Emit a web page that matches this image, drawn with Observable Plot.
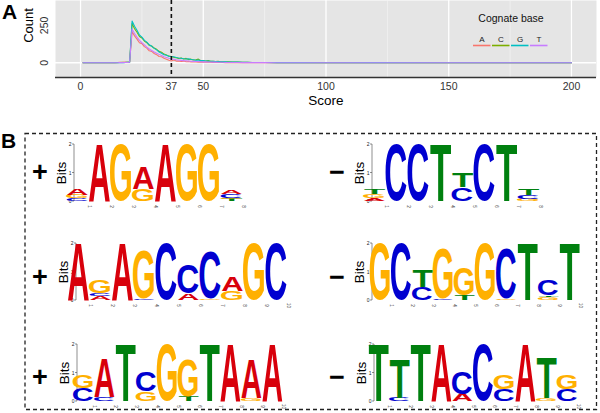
<!DOCTYPE html>
<html><head><meta charset="utf-8">
<script src="https://cdn.jsdelivr.net/npm/d3@7"></script>
<script src="https://cdn.jsdelivr.net/npm/@observablehq/plot@0.6"></script>
<style>
html,body{margin:0;padding:0;background:#fff;}
body{width:600px;height:413px;position:relative;overflow:hidden;font-family:"Liberation Sans",Arial,sans-serif;}
</style></head><body>
<script>
// ---------- Panel A data ----------
const bases = ["A","C","G","T"];
const lineColors = ["#F8766D","#7CAE00","#00BFC4","#C77CFF"];
const xTicks = [0,37,50,100,150,200];
const yTicks = [0,250];
const scores = [1,14, 15,16,17,18,19,20,
  21,22,23,24,25,26,27,28,29,30, 31,32,33,34,35,36,37,38,39,40,
  41,42,43,44,45,46,47,48,49,50, 51,52,53,54,55,56,57,58,59,60,
  62,64,66,68,70,75,80,90,100,120,150,200];
const countA = [0,0, 2,3,2,4,3,5, 208,180,158,134,128,108,98,80,76,62, 54,42,40,30,24,16,12,18,11,12, 9,11,7,8,6,7,5,4,6,4, 3,5,3,2,4,2,3,2,1,2, 1,2,1,1,1,0,1,0,0,0,0,0];
const countC = [0,0, 1,2,3,2,3,4, 262,228,204,176,166,146,134,116,112,98, 90,76,70,58,52,44,42,36,34,28, 32,25,29,21,24,18,20,24,14,13, 12,14,9,10,8,9,6,7,5,6, 4,5,3,3,2,2,1,1,0,0,0,0];
const countG = [0,0, 0,1,2,1,3,3, 280,244,218,186,172,150,138,120,110,96, 86,72,64,54,50,44,40,40,35,32, 30,27,25,26,22,20,17,18,14,14, 12,11,10,10,8,8,7,6,6,5, 4,4,3,3,2,2,1,1,0,1,0,0];
const countT = [0,0, 0,1,1,2,2,3, 226,196,172,150,134,120,104,92,82,72, 64,56,48,40,35,30,26,23,20,18, 16,14,13,12,10,9,8,8,7,6, 6,5,5,4,4,3,3,3,2,2, 2,2,1,1,1,1,0,0,0,0,0,0];
const cutoff = 37;

// ---------- Panel B data (bottom-to-top stacks, bits) ----------
const logo1 = [[["C",0.1],["G",0.12],["A",0.22]],[["A",2]],[["G",2]],[["G",0.42],["A",0.78]],[["A",2]],[["G",2]],[["G",2]],[["T",0.08],["G",0.04],["C",0.14],["A",0.14]]];
const logo2 = [[["A",0.1],["G",0.13],["T",0.18]],[["C",2]],[["C",2]],[["T",2]],[["C",0.48],["T",0.5]],[["C",2]],[["T",2]],[["G",0.08],["C",0.14],["T",0.2]]];
const logo3 = [[["A",2]],[["A",0.14],["C",0.1],["G",0.48]],[["A",2]],[["C",0.05],["G",1.72]],[["C",2]],[["A",0.24],["C",1.02]],[["G",0.05],["C",1.64]],[["G",0.32],["A",0.5]],[["G",2]],[["C",2]]];
const logo4 = [[["G",2]],[["C",2]],[["C",0.45],["T",0.6]],[["C",0.06],["G",1.76]],[["T",0.16],["G",0.98]],[["G",2]],[["G",0.06],["C",1.76]],[["T",2]],[["G",0.1],["T",0.06],["C",0.55]],[["T",2]]];
const logo5 = [[["C",0.45],["G",0.47]],[["C",0.15],["A",1.35]],[["T",2]],[["G",0.33],["C",0.67]],[["G",2]],[["T",0.16],["G",1.28]],[["T",2]],[["A",2]],[["G",0.1],["A",1.35]],[["A",2]]];
const logo6 = [[["T",2]],[["C",0.12],["T",1.38]],[["T",2]],[["A",2]],[["A",0.25],["C",0.8]],[["C",2]],[["C",0.4],["G",0.52]],[["A",2]],[["G",0.1],["T",1.4]],[["C",0.4],["G",0.52]]];
const logoSigns = ["+","−","+","−","+","−"];
const bitTicks = [0,1,2];
const baseColors = {A:"#d8000b", C:"#0000d0", G:"#ffb000", T:"#00800f"};

// ---------- helpers ----------
const NS = "http://www.w3.org/2000/svg";
const FONT = "Liberation Sans, Arial, sans-serif";
const cv = document.createElement("canvas").getContext("2d");
cv.font = "bold 100px 'Liberation Sans'";
const metrics = {};
for (const b of "ACGT") {
  const m = cv.measureText(b);
  metrics[b] = {l: m.actualBoundingBoxLeft, r: m.actualBoundingBoxRight, a: m.actualBoundingBoxAscent, d: m.actualBoundingBoxDescent};
}
function place(el, left, top) {
  el.style.position = "absolute"; el.style.left = left + "px"; el.style.top = top + "px";
  document.body.appendChild(el);
}

// ---------- Panel A ----------
const lineData = bases.flatMap((b, i) => {
  const arr = [countA, countC, countG, countT][i];
  return scores.map((s, j) => ({base: b, score: s, count: arr[j]}));
});
const plotA = Plot.plot({
  width: 600, height: 112,
  marginLeft: 55, marginRight: 4, marginTop: 0, marginBottom: 35,
  style: {fontFamily: FONT, background: "transparent", overflow: "visible"},
  x: {domain: [-10.2, 210.2], axis: null},
  y: {domain: [-99, 417], axis: null},
  color: {domain: bases, range: lineColors},
  marks: [
    Plot.frame({fill: "#e5e5e5", stroke: "none"}),
    Plot.ruleX([25, 75, 125, 175], {stroke: "#f3f3f3", strokeWidth: 0.7}),
    Plot.ruleX([0, 50, 100, 150, 200], {stroke: "#ffffff", strokeWidth: 1.3}),
    Plot.ruleY([0], {stroke: "#ffffff", strokeWidth: 1.3}),
    Plot.line(lineData, {x: "score", y: "count", stroke: "base", z: "base", strokeWidth: 1.1}),
    Plot.ruleX([cutoff], {stroke: "#111", strokeWidth: 1.6, strokeDasharray: "4,3"}),
    Plot.ruleY([-99], {stroke: "#333", strokeWidth: 1.6}),
    Plot.text(xTicks, {x: d => d, frameAnchor: "bottom", dy: 12, text: d => String(d), fontSize: 10.5, fill: "#333"}),
    Plot.text(yTicks, {y: d => d, frameAnchor: "left", textAnchor: "middle", dx: -11, rotate: -90, text: d => String(d), fontSize: 10.5, fill: "#333"}),
    Plot.text(["Count"], {y: () => 250, frameAnchor: "left", textAnchor: "middle", dx: -27, rotate: -90, fontSize: 13, fill: "#000"}),
    Plot.text(["Score"], {x: () => 100, frameAnchor: "bottom", dy: 27, fontSize: 13.5, fill: "#000"})
  ]
});
place(plotA, 0, 0);

// Legend
const leg = document.createElementNS(NS, "svg");
leg.setAttribute("width", 140); leg.setAttribute("height", 60);
leg.setAttribute("style", "position:absolute;left:440px;top:0px;font-family:" + FONT);
let lh = `<text x="71" y="22" text-anchor="middle" font-size="10.5" fill="#111">Cognate base</text>`;
bases.forEach((b, i) => {
  const cx = 42 + i * 19;
  lh += `<text x="${cx}" y="42" text-anchor="middle" font-size="8" fill="#222">${b}</text>`;
  lh += `<line x1="${cx - 9}" x2="${cx + 8.5}" y1="45.5" y2="45.5" stroke="${lineColors[i]}" stroke-width="1.6"/>`;
});
leg.innerHTML = lh;
document.body.appendChild(leg);

// ---------- Panel B ----------
const logos = [logo1, logo2, logo3, logo4, logo5, logo6];
const cfg = [
  {col: 0,   ax: 74,  bl: 77,  br: 254, y2: 144, y0: 201, sx: 40,  sy: 172},
  {col: 300, ax: 372, bl: 374, br: 551, y2: 144, y0: 201, sx: 337, sy: 172},
  {col: 0,   ax: 76,  bl: 78,  br: 299, y2: 243, y0: 300, sx: 40,  sy: 277},
  {col: 300, ax: 372, bl: 377, br: 594, y2: 243, y0: 300, sx: 337, sy: 277},
  {col: 0,   ax: 77,  bl: 80,  br: 298, y2: 344, y0: 401, sx: 40,  sy: 377},
  {col: 300, ax: 374, bl: 375, br: 593, y2: 344, y0: 401, sx: 337, sy: 377}
];

function glyphMark(rows) {
  return (index, scales, values, dims) => {
    const g = document.createElementNS(NS, "g");
    const x = scales.x, y = scales.y;
    const bw = x.bandwidth ? x.bandwidth() : 20;
    const ax = dims.marginLeft;
    const ln = document.createElementNS(NS, "line");
    ln.setAttribute("x1", ax); ln.setAttribute("x2", ax);
    ln.setAttribute("y1", y(0)); ln.setAttribute("y2", y(2));
    ln.setAttribute("stroke", "#444"); ln.setAttribute("stroke-width", 0.6);
    g.appendChild(ln);
    for (const t of bitTicks) {
      const tk = document.createElementNS(NS, "line");
      tk.setAttribute("x1", ax - 2); tk.setAttribute("x2", ax);
      tk.setAttribute("y1", y(t)); tk.setAttribute("y2", y(t));
      tk.setAttribute("stroke", "#444"); tk.setAttribute("stroke-width", 0.6);
      g.appendChild(tk);
    }
    for (const r of rows) {
      const m = metrics[r.base];
      const x0 = x(r.pos), yTop = y(r.y2), yBot = y(r.y1);
      const h = yBot - yTop;
      if (h <= 0.05) continue;
      const sx = bw / (m.l + m.r), sy = h / (m.a + m.d);
      const t = document.createElementNS(NS, "text");
      t.setAttribute("transform", `translate(${x0},${yTop}) scale(${sx},${sy}) translate(${m.l},${m.a})`);
      t.setAttribute("font-family", "Liberation Sans");
      t.setAttribute("font-weight", "bold");
      t.setAttribute("font-size", 100);
      t.setAttribute("fill", baseColors[r.base]);
      t.textContent = r.base;
      g.appendChild(t);
    }
    return g;
  };
}

logos.forEach((logo, k) => {
  const c = cfg[k];
  const top = c.y2 - 12, height = (c.y0 - c.y2) + 26;
  const positions = logo.map((_, i) => i + 1);
  const rows = [];
  logo.forEach((stack, i) => {
    let cum = 0;
    for (const [base, bits] of stack) { rows.push({pos: i + 1, base, y1: cum, y2: cum + bits}); cum += bits; }
  });
  const p = Plot.plot({
    width: 300, height,
    marginLeft: c.ax - c.col, marginRight: 0, marginTop: 12, marginBottom: 14,
    style: {fontFamily: FONT, background: "transparent", overflow: "visible"},
    x: {type: "band", domain: positions, range: [c.bl - c.col, c.br - c.col], padding: 0.04, axis: null},
    y: {domain: [0, 2], range: [c.y0 - top, c.y2 - top], axis: null},
    marks: [
      Plot.text(bitTicks, {y: d => d, frameAnchor: "left", textAnchor: "end", dx: -3, text: d => String(d), fontSize: 5, fill: "#222"}),
      Plot.text(positions, {x: d => d, y: () => 0, dy: 5, rotate: 90, text: d => String(d), fontSize: 4.5, fill: "#333"}),
      Plot.text(["Bits"], {y: () => 1, frameAnchor: "left", textAnchor: "middle", dx: -13, rotate: -90, fontSize: 13.5, fill: "#000"}),
      glyphMark(rows)
    ]
  });
  place(p, c.col, top);
});

// Frame, signs and panel letters
const ov = document.createElementNS(NS, "svg");
ov.setAttribute("width", 600); ov.setAttribute("height", 413);
ov.setAttribute("style", "position:absolute;left:0;top:0;pointer-events:none;font-family:" + FONT);
let oh = `<rect x="25" y="133.5" width="571.5" height="276" fill="none" stroke="#222" stroke-width="1.3" stroke-dasharray="4,3"/>`;
oh += `<text x="2" y="19" font-size="21" font-weight="bold" fill="#000">A</text>`;
oh += `<text x="1" y="148" font-size="21" font-weight="bold" fill="#000">B</text>`;
cfg.forEach((c, k) => {
  oh += `<text x="${c.sx}" y="${c.sy}" text-anchor="middle" dominant-baseline="central" font-size="27" font-weight="bold" fill="#000">${logoSigns[k]}</text>`;
});
ov.innerHTML = oh;
document.body.appendChild(ov);
</script>
</body></html>
